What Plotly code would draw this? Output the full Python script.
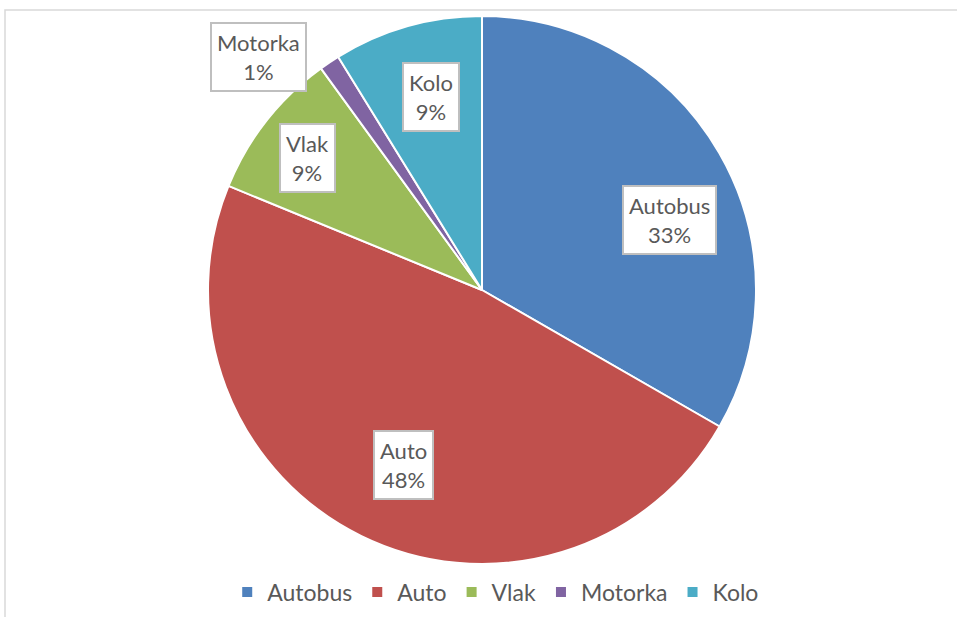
import math
import plotly.graph_objects as go

# Share of trips by mode of transport (percent)
categories = ["Autobus", "Auto", "Vlak", "Motorka", "Kolo"]
shares = [33.3, 47.9, 8.8, 1.2, 8.8]
colors = ["#4F81BD", "#C0504D", "#9BBB59", "#8064A2", "#4BACC6"]

# Label placement per slice: radial fraction of the radius and angular nudge (deg)
label_radius = [0.73, 0.70, 0.80, 1.18, 0.73]
label_nudge = [9.5, -2, -1, -10, 1]

W, H = 957, 617
cx, cy, R = 482, 290, 274  # pie centre and radius in pixels
FONT = "Lato, Open Sans, sans-serif"

fig = go.Figure()
fig.add_trace(go.Pie(
    labels=categories,
    values=shares,
    sort=False,
    direction="clockwise",
    rotation=0,
    marker=dict(colors=colors, line=dict(color="white", width=2)),
    textinfo="none",
    hoverinfo="label+percent",
    domain=dict(x=[(cx - R) / W, (cx + R) / W],
                y=[(H - cy - R) / H, (H - cy + R) / H]),
))

# Boxed data labels positioned from each slice's mid-angle
total = sum(shares)
cum = 0.0
for name, v, rf, nd in zip(categories, shares, label_radius, label_nudge):
    mid = (cum + v / 2) / total * 360 + nd
    cum += v
    a = math.radians(mid)
    px = cx + rf * R * math.sin(a)
    py = cy - rf * R * math.cos(a)
    pct = round(v / total * 100)
    fig.add_annotation(
        x=px / W, y=(H - py) / H, xref="paper", yref="paper",
        xanchor="center", yanchor="middle",
        text=f"{name}<br>{pct}%", showarrow=False,
        font=dict(family=FONT, size=22, color="#595959"),
        bgcolor="white", bordercolor="#BFBFBF", borderwidth=2, borderpad=5,
        align="center",
    )

# Chart area frame
fig.add_shape(type="rect", xref="paper", yref="paper",
              x0=5 / W, x1=1.2, y0=-0.2, y1=(H - 10) / H,
              line=dict(color="#D9D9D9", width=1.5), fillcolor="rgba(0,0,0,0)",
              layer="below")

fig.update_layout(
    width=W, height=H,
    margin=dict(l=0, r=0, t=0, b=0),
    paper_bgcolor="white",
    plot_bgcolor="white",
    showlegend=True,
    legend=dict(orientation="h", x=0.518, xanchor="center", y=(H - 592) / H,
                yanchor="middle",
                font=dict(family=FONT, size=23, color="#595959"),
                itemwidth=30, traceorder="normal"),
)

fig.write_html("out.html")
